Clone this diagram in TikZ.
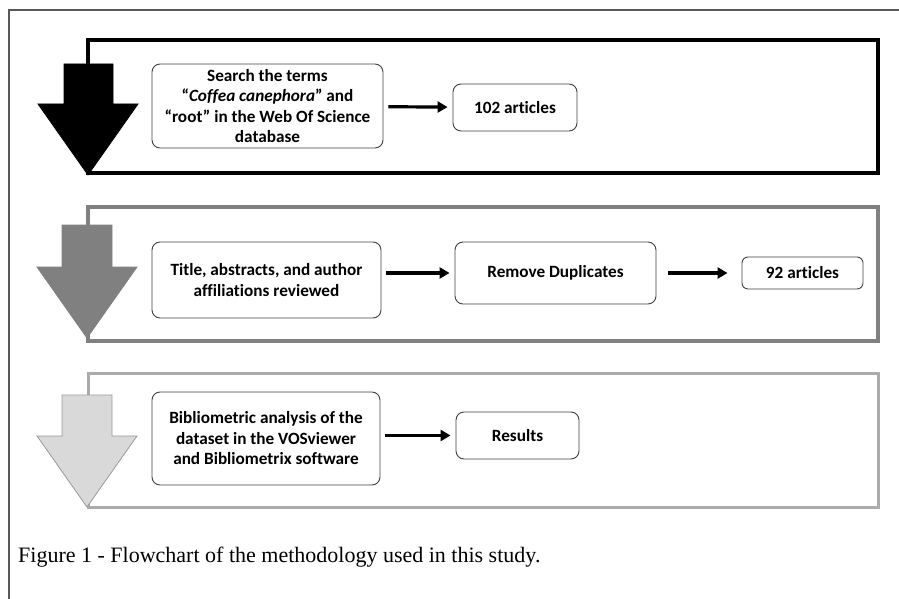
\documentclass[tikz,border=0pt]{standalone}
\usepackage{fontspec}
\setsansfont{Carlito}[Ligatures=NoCommon]
\newfontfamily\capfont{Liberation Serif}
\usetikzlibrary{arrows.meta}

\tikzset{
    stepbox/.style={draw=black!75,line width=0.9pt,rounded corners=8pt,fill=white,
        font=\sffamily\bfseries\fontsize{17.2}{20.5}\selectfont,align=center,inner sep=2pt},
    flow/.style={-{Triangle[length=10pt,width=11pt]},line width=3.2pt,shorten <=5pt,shorten >=5pt},
}

\begin{document}
\begin{tikzpicture}[x=1pt,y=-1pt]
        \useasboundingbox (0,0) rectangle (899,599);
        % outer frame
        \draw[black!65,line width=1.5pt] (899,10) -- (9,10) -- (9,599);

        % panels
        \draw[black,line width=4pt] (88,40) rectangle (878,173);
        \draw[black!50,line width=3.5pt] (88,207) rectangle (878,341);
        \draw[black!33,line width=3pt] (88,373) rectangle (878,507);

        % big down arrows
        \filldraw[black,line width=0.8pt] (64,64) -- (113,64) -- (113,104) -- (138,104)
            -- (88,175) -- (38,104) -- (64,104) -- cycle;
        \filldraw[fill=black!50,draw=black!50,line width=0.8pt] (62,225) -- (112,225) -- (112,267) -- (137,267)
            -- (87,338) -- (37,267) -- (62,267) -- cycle;
        \filldraw[fill=black!15,draw=black!40,line width=0.8pt] (62,395) -- (112,395) -- (112,436) -- (137,436)
            -- (87,507) -- (37,436) -- (62,436) -- cycle;

        % step 1
        \node[stepbox,minimum width=231pt,minimum height=84pt] (search) at (267.5,106)
            {Search the terms\\``\textit{Coffea canephora}'' and\\``root'' in the Web Of Science\\database};
        \node[stepbox,minimum width=124pt,minimum height=47pt] (n102) at (515,107.5) {102 articles};
        \draw[flow] (search) -- (n102);

        % step 2
        \node[stepbox,minimum width=229pt,minimum height=76pt] (review) at (266.5,280)
            {Title, abstracts, and author\\affiliations reviewed};
        \node[stepbox,minimum width=201pt,minimum height=62pt] (dupl) at (555.5,273) {Remove Duplicates};
        \node[stepbox,minimum width=121pt,minimum height=32pt,rounded corners=6pt] (n92) at (802.5,273) {92 articles};
        \draw[flow] (review.east |- dupl) -- (dupl);
        \draw[flow,shorten <=12pt,shorten >=14pt] (dupl) -- (n92);

        % step 3
        \node[stepbox,minimum width=228pt,minimum height=93pt] (biblio) at (266,438.5)
            {Bibliometric analysis of the\\dataset in the VOSviewer\\and Bibliometrix software};
        \node[stepbox,minimum width=123pt,minimum height=47pt] (res) at (517.5,435.5) {Results};
        \draw[flow] (biblio.east |- res) -- (res);

        % caption
        \node[anchor=west,font=\capfont\fontsize{22}{25}\selectfont,inner sep=0pt] (cap) at (18,557)
            {Figure 1 - Flowchart of the methodology used in this study.};
    \end{tikzpicture}
\end{document}
